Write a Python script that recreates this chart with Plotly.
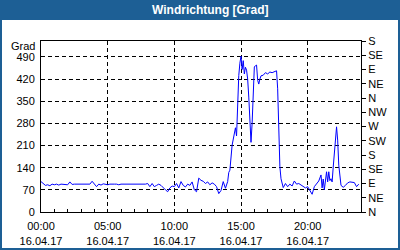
import plotly.graph_objects as go
from datetime import datetime, timedelta

# ---- data ----
times = ["00:00","00:10","00:20","00:30","00:40","00:50","01:00","01:10","01:20","01:30",
         "01:40","01:50","02:00","02:10","02:20","02:30","02:40","02:50","03:00","03:10",
         "03:20","03:30","03:40","03:50","04:00","04:10","04:20","04:30","04:40","04:50",
         "05:00","05:10","05:20","05:30","05:40","05:50","06:00","06:10","06:20","06:30",
         "06:40","06:50","07:00","07:10","07:20","07:30","07:40","07:50","08:00","08:10",
         "08:20","08:30","08:40","08:50","09:00","09:10","09:20","09:30","09:40","09:50",
         "10:00","10:10","10:20","10:30","10:40","10:50","11:00","11:10","11:20","11:30",
         "11:40","11:50","12:00","12:10","12:20","12:30","12:40","12:50","13:00","13:10",
         "13:20","13:30","13:40","13:50","14:00","14:05","14:10","14:20","14:30","14:35",
         "14:40","14:45","14:50","14:55","15:00","15:05","15:10","15:15","15:20","15:25",
         "15:30","15:35","15:40","15:45","15:50","15:55","16:00","16:05","16:10","16:15",
         "16:20","16:25","16:30","16:40","16:50","17:00","17:10","17:20","17:30","17:40",
         "17:45","17:50","17:55","18:00","18:10","18:20","18:30","18:40","18:50","19:00",
         "19:10","19:20","19:30","19:40","19:50","20:00","20:10","20:20","20:30","20:40",
         "20:50","21:00","21:05","21:10","21:15","21:25","21:30","21:35","21:40","21:45",
         "21:50","21:55","22:05","22:10","22:15","22:20","22:30","22:40","22:50","23:00",
         "23:10","23:20","23:30","23:40","23:50"]
values = [96, 90, 84, 86, 83, 88, 86, 88, 85, 88,
          87, 88, 86, 95, 87, 88, 88, 88, 88, 88,
          87, 88, 88, 97, 88, 80, 88, 85, 89, 88,
          86, 88, 89, 88, 88, 86, 88, 88, 88, 87,
          88, 88, 86, 88, 87, 88, 86, 88, 90, 80,
          90, 80, 84, 88, 84, 76, 70, 64, 76, 82,
          80, 90, 76, 96, 84, 79, 88, 84, 95, 70,
          64, 107, 100, 97, 90, 95, 86, 92, 88, 80,
          58, 68, 96, 75, 96, 125, 132, 211, 255, 266,
          240, 352, 431, 470, 492, 450, 478, 436, 457, 448,
          420, 363, 273, 220, 280, 384, 458, 462, 464, 416,
          404, 420, 430, 432, 440, 436, 442, 440, 443, 446,
          389, 248, 143, 105, 77, 90, 80, 88, 82, 98,
          88, 90, 86, 80, 76, 80, 68, 56, 80, 90,
          98, 117, 76, 104, 70, 127, 95, 127, 99, 105,
          95, 142, 239, 269, 227, 148, 84, 78, 84, 92,
          95, 95, 93, 80, 88]

left_ticks = [0, 70, 140, 210, 280, 350, 420, 490]
right_ticks = [0, 45, 90, 135, 180, 225, 270, 315, 360, 405, 450, 495, 540]
right_labels = ["N", "NE", "E", "SE", "S", "SW", "W", "NW", "N", "NE", "E", "SE", "S"]
x_tick_times = ["00:00", "05:00", "10:00", "15:00", "20:00"]
date_label = "16.04.17"
title_text = "Windrichtung [Grad]"
unit_text = "Grad"

# ---- helpers ----
base = datetime(2017, 4, 16)
def to_dt(s):
    h, m = s.split(":")
    return base + timedelta(hours=int(h), minutes=int(m))

x_vals = [to_dt(t) for t in times]
W, H = 400, 250
ML, MR, MT, MB = 41, 39, 41, 38
PW, PH = W - ML - MR, H - MT - MB
def px(x):
    return (x - ML) / PW
def py(y):
    return (H - MB - y) / PH

FONT = "Liberation Sans"
BLUE_BAR = "#1D5F95"

fig = go.Figure()
fig.add_trace(go.Scatter(x=x_vals, y=values, mode="lines",
                         line=dict(color="#0000FF", width=1), yaxis="y"))
fig.add_trace(go.Scatter(x=[x_vals[0]], y=[values[0]], mode="lines",
                         line=dict(color="rgba(0,0,0,0)"), yaxis="y2",
                         hoverinfo="skip"))

fig.update_layout(
    width=W, height=H,
    margin=dict(l=ML, r=MR, t=MT, b=MB, pad=0, autoexpand=False),
    paper_bgcolor="white", plot_bgcolor="white",
    showlegend=False,
    font=dict(family=FONT, size=11, color="black"),
    xaxis=dict(
        type="date", automargin=False,
        range=[base, base + timedelta(hours=24)],
        tickvals=[to_dt(t) for t in x_tick_times],
        ticktext=[f"{t}<br>{date_label}" for t in x_tick_times],
        ticks="inside", ticklen=3, tickcolor="black",
        showline=True, linecolor="black", linewidth=1, mirror=True,
        showgrid=True, gridcolor="black", gridwidth=1, griddash="4px,3px",
        zeroline=False, ticklabelstandoff=4,
        minor=dict(dtick=3600000, ticks="inside", ticklen=3,
                   tickcolor="black", showgrid=False),
        tickfont=dict(size=11),
    ),
    yaxis=dict(
        range=[0, 540], automargin=False,
        tickvals=left_ticks,
        ticks="", showline=True, linecolor="black", linewidth=1,
        showgrid=True, gridcolor="black", gridwidth=1, griddash="4px,3px",
        zeroline=False, ticklabelstandoff=3,
        tickfont=dict(size=11),
    ),
    yaxis2=dict(
        range=[0, 540], overlaying="y", side="right", automargin=False,
        tickvals=right_ticks, ticktext=right_labels,
        ticks="outside", ticklen=4, tickcolor="black",
        showline=True, linecolor="black", linewidth=1,
        showgrid=False, zeroline=False,
        tickfont=dict(size=11),
    ),
)

# title bar
fig.add_shape(type="rect", xref="paper", yref="paper",
              x0=px(0), x1=px(W), y0=py(20), y1=py(0),
              fillcolor=BLUE_BAR, line=dict(width=0), layer="above")
# border
fig.add_shape(type="rect", xref="paper", yref="paper",
              x0=px(1), x1=px(W - 1), y0=py(H - 1), y1=py(1),
              fillcolor="rgba(0,0,0,0)", line=dict(color=BLUE_BAR, width=2))

fig.add_annotation(text=f"<b>{title_text}</b>", xref="paper", yref="paper",
                   x=px(210), y=py(10), xanchor="center", yanchor="middle",
                   showarrow=False, font=dict(family=FONT, size=12, color="white"))
fig.add_annotation(text=unit_text, xref="paper", yref="paper",
                   x=px(37), y=py(46), xanchor="right", yanchor="middle",
                   showarrow=False, font=dict(family=FONT, size=11, color="black"))

fig.write_html("out.html")
